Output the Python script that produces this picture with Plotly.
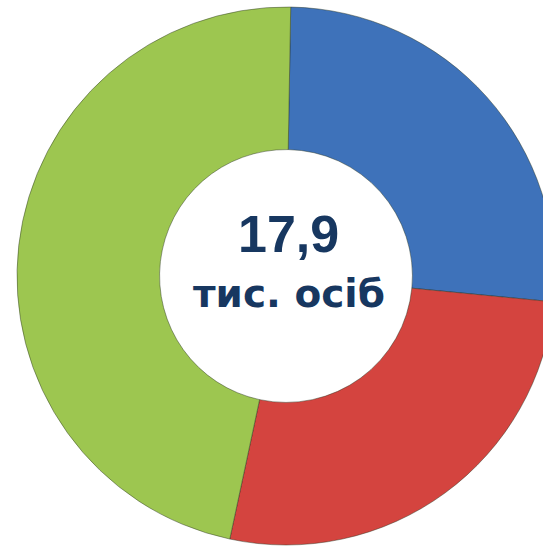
import plotly.graph_objects as go

labels = ["A", "B", "C"]
values = [4.7, 4.8, 8.4]
colors = ["#3E72BA", "#D4443F", "#9DC650"]
center_value = "17,9"
center_unit = "тис. осіб"

W, H = 566, 547
cx, cy, r = 286, 276, 269

fig = go.Figure()
fig.add_trace(go.Pie(
    labels=labels,
    values=values,
    hole=0.47,
    sort=False,
    direction="clockwise",
    rotation=1,
    marker=dict(colors=colors, line=dict(color="rgba(40,50,30,0.45)", width=1)),
    textinfo="none",
    hoverinfo="none",
    showlegend=False,
    domain=dict(x=[(cx - r) / W, (cx + r) / W], y=[1 - (cy + r) / H, 1 - (cy - r) / H]),
))

fig.add_annotation(text=f"<b>{center_value}</b>", x=288 / W, y=1 - 234 / H,
                   xref="paper", yref="paper", showarrow=False,
                   font=dict(family="Liberation Sans, Arial", size=52, color="#173760"))
fig.add_annotation(text=f"<b>{center_unit}</b>", x=289 / W, y=1 - 293 / H,
                   xref="paper", yref="paper", showarrow=False,
                   font=dict(family="DejaVu Sans", size=39, color="#173760"))

fig.update_layout(width=W, height=H, margin=dict(l=0, r=0, t=0, b=0),
                  paper_bgcolor="white", plot_bgcolor="white")

fig.write_html("out.html", config={"displayModeBar": False},
               post_script="document.body.style.margin='0';document.body.style.overflow='hidden';")
